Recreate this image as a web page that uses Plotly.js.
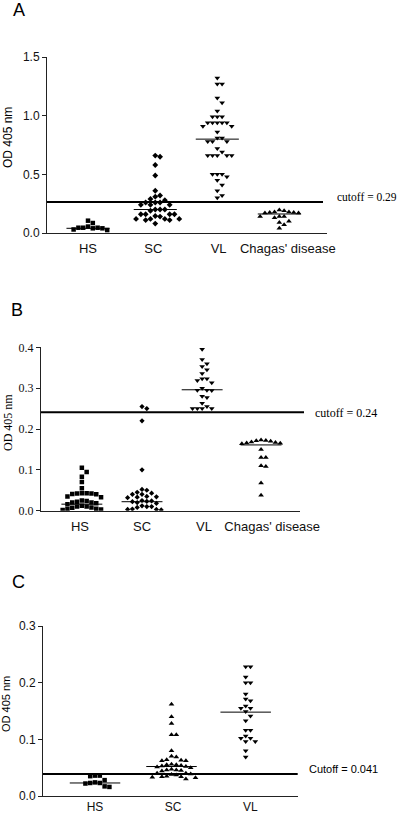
<!DOCTYPE html>
<html>
<head>
<meta charset="utf-8">
<script src="https://cdn.plot.ly/plotly-3.0.1.min.js"></script>
<style>html,body{margin:0;padding:0;background:#fff;}#chart{width:400px;height:814px;}</style>
</head>
<body>
<div id="chart"></div>
<script>
// ---------- DATA ----------
const categoriesAB = ["HS", "SC", "VL", "Chagas' disease"];
const categoriesC = ["HS", "SC", "VL"];

// Panel A
const hsA = [0.105, 0.085, 0.055, 0.045, 0.045, 0.045, 0.04, 0.04, 0.03, 0.025];
const scA = [0.66, 0.65, 0.58, 0.49, 0.36, 0.32, 0.31, 0.29, 0.28, 0.26, 0.26, 0.26, 0.24, 0.24, 0.24, 0.20, 0.20, 0.20, 0.19, 0.16, 0.16, 0.16, 0.16, 0.145, 0.14, 0.12, 0.12, 0.12, 0.12, 0.11, 0.11, 0.08];
const vlA = [1.32, 1.27, 1.27, 1.15, 1.11, 1.04, 0.99, 0.99, 0.99, 0.94, 0.94, 0.94, 0.94, 0.94, 0.91, 0.91, 0.86, 0.81, 0.81, 0.78, 0.78, 0.78, 0.72, 0.69, 0.66, 0.66, 0.66, 0.66, 0.66, 0.50, 0.50, 0.50, 0.48, 0.45, 0.41, 0.36, 0.32, 0.30];
const chA = [0.195, 0.19, 0.18, 0.18, 0.175, 0.175, 0.17, 0.17, 0.14, 0.14, 0.14, 0.13, 0.10, 0.09, 0.07, 0.04];
const medianA = [0.04, 0.20, 0.80, 0.162];

// Panel B
const hsB = [0.105, 0.095, 0.083, 0.07, 0.055, 0.043, 0.043, 0.042, 0.042, 0.041, 0.04, 0.035, 0.033, 0.025, 0.024, 0.022, 0.02, 0.02, 0.018, 0.016, 0.012, 0.01, 0.01, 0.008, 0.007, 0.005, 0.004, 0.003, 0.002];
const scB = [0.255, 0.25, 0.22, 0.10, 0.052, 0.05, 0.045, 0.043, 0.04, 0.04, 0.035, 0.034, 0.033, 0.032, 0.025, 0.024, 0.023, 0.022, 0.02, 0.018, 0.012, 0.01, 0.01, 0.008, 0.004, 0.003, 0.003, 0.002];
const vlB = [0.395, 0.37, 0.36, 0.353, 0.345, 0.336, 0.323, 0.323, 0.319, 0.313, 0.30, 0.295, 0.295, 0.294, 0.28, 0.277, 0.263, 0.255, 0.25, 0.25, 0.25, 0.25];
const chB = [0.173, 0.172, 0.171, 0.17, 0.168, 0.167, 0.166, 0.165, 0.164, 0.15, 0.13, 0.13, 0.11, 0.108, 0.068, 0.038];
const medianB = [0.016, 0.022, 0.296, 0.161];

// Panel C
const hsC = [0.036, 0.036, 0.035, 0.028, 0.024, 0.023, 0.023, 0.022, 0.017, 0.016];
const scC = [0.162, 0.14, 0.128, 0.108, 0.108, 0.08, 0.07, 0.069, 0.064, 0.063, 0.062, 0.062, 0.056, 0.055, 0.055, 0.054, 0.053, 0.052, 0.051, 0.05, 0.047, 0.046, 0.046, 0.045, 0.044, 0.04, 0.04, 0.039, 0.038, 0.037, 0.035, 0.034, 0.034, 0.033, 0.032, 0.03];
const vlC = [0.228, 0.228, 0.21, 0.2, 0.2, 0.18, 0.171, 0.168, 0.159, 0.155, 0.155, 0.149, 0.141, 0.133, 0.116, 0.116, 0.106, 0.102, 0.102, 0.096, 0.096, 0.08, 0.069];
const medianC = [0.023, 0.052, 0.148];

// Cutoff lines (as drawn) and their labels
const cutoffLine = [0.265, 0.241, 0.039];
const cutoffText = ["cutoff = 0.29", "cutoff = 0.24", "Cutoff = 0.041"];
const panelLetters = ["A", "B", "C"];
const yTitle = "OD 405 nm";

// ---------- LAYOUT CONSTANTS ----------
const W = 400, H = 814;
const SANS = "Liberation Sans, Arial, sans-serif";
const SERIF = "Liberation Serif, Times New Roman, serif";

// pixel boxes of the three plot areas: [left, right, top, bottom]
const boxes = [[47, 327, 57, 233], [41, 300, 347.3, 510.7], [43, 297.7, 626, 796]];
const xRanges = [[0.372, 4.66], [0.371, 4.548], [0.32, 3.65]];
const yRanges = [[0, 1.5], [0, 0.4], [0, 0.3]];
const yDticks = [0.5, 0.1, 0.1];

const panels = [
  {groups: [hsA, scA, vlA, chA], meds: medianA, cats: categoriesAB,
   pos: [1, 2.03, 2.98, 3.93], tickPos: [1, 2, 3, 4.06],
   symbols: ["square", "diamond", "triangle-down", "triangle-up"], sizes: [4.5, 4.5, 5, 5],
   tickFont: SANS, xlabSize: 13, xlabShift: 3},
  {groups: [hsB, scB, vlB, chB], meds: medianB, cats: categoriesAB,
   pos: [1.03, 2, 2.97, 3.92], tickPos: [1, 2, 3, 4.1],
   symbols: ["square", "diamond", "triangle-down", "triangle-up"], sizes: [4.5, 4, 5, 5],
   tickFont: SERIF, xlabSize: 13, xlabShift: 4},
  {groups: [hsC, scC, vlC], meds: medianC, cats: categoriesC,
   pos: [1, 2, 2.97], tickPos: [1, 2.02, 3.03],
   symbols: ["square", "triangle-up", "triangle-down"], sizes: [4.5, 5, 5],
   tickFont: SANS, xlabSize: 12, xlabShift: 0}
];

// simple greedy beeswarm in pixel space
function swarm(vals, center, pxX, pxY, d) {
  const placed = [];
  const out = new Array(vals.length);
  const order = vals.map((v, i) => i).sort((a, b) => vals[b] - vals[a]);
  for (const i of order) {
    const yp = vals[i] * pxY;
    let xp = 0;
    for (let s = 0; s < 60; s++) {
      const k = Math.ceil(s / 2);
      const cand = s === 0 ? 0 : (s % 2 === 1 ? k * d : -k * d);
      const ok = placed.every(p => Math.abs(p.x - cand) >= d * 0.98 || Math.abs(p.y - yp) >= d * 0.98);
      if (ok) { xp = cand; break; }
    }
    placed.push({x: xp, y: yp});
    out[i] = center + xp / pxX;
  }
  return out;
}

const traces = [];
const shapes = [];
const annotations = [];
const layout = {
  width: W, height: H, autosize: false,
  margin: {l: 0, r: 0, t: 0, b: 0, pad: 0},
  paper_bgcolor: "#fff", plot_bgcolor: "rgba(0,0,0,0)",
  showlegend: false
};

panels.forEach((p, pi) => {
  const [l, r, t, b] = boxes[pi];
  const sfx = pi === 0 ? "" : String(pi + 1);
  const xa = "x" + sfx, ya = "y" + sfx;
  const pxX = (r - l) / (xRanges[pi][1] - xRanges[pi][0]);
  const pxY = (b - t) / (yRanges[pi][1] - yRanges[pi][0]);

  layout["xaxis" + sfx] = {
    domain: [l / W, r / W], range: xRanges[pi], anchor: ya,
    showline: true, linecolor: "#222", linewidth: 1, mirror: false,
    showgrid: false, zeroline: false, ticks: "",
    tickmode: "array", tickvals: p.tickPos, ticktext: p.cats,
    ticklabelstandoff: p.xlabShift,
    tickfont: {family: SANS, size: p.xlabSize, color: "#111"}, fixedrange: true
  };
  layout["yaxis" + sfx] = {
    domain: [1 - b / H, 1 - t / H], range: yRanges[pi], anchor: xa,
    showline: true, linecolor: "#222", linewidth: 1,
    showgrid: false, zeroline: false, ticks: "outside", ticklen: 4, tickwidth: 1, tickcolor: "#222",
    dtick: yDticks[pi], tick0: 0, tickformat: ".1f",
    tickfont: {family: p.tickFont, size: 12, color: "#111"}, fixedrange: true
  };

  p.groups.forEach((vals, gi) => {
    const xs = swarm(vals, p.pos[gi], pxX, pxY, 4.8);
    traces.push({
      type: "scatter", mode: "markers", x: xs, y: vals, xaxis: xa, yaxis: ya,
      marker: {symbol: p.symbols[gi], size: p.sizes[gi], color: "#000", line: {width: 0}},
      hoverinfo: "y", name: p.cats[gi]
    });
    // median line
    const half = 0.33;
    shapes.push({type: "line", xref: xa, yref: ya, x0: p.pos[gi] - half, x1: p.pos[gi] + half,
      y0: p.meds[gi], y1: p.meds[gi], line: {color: "#000", width: 1}});
  });

  // cutoff line
  const cutEnd = [323, 304, 297.7][pi];
  shapes.push({type: "line", xref: "paper", yref: ya, x0: l / W, x1: cutEnd / W,
    y0: cutoffLine[pi], y1: cutoffLine[pi], line: {color: "#000", width: 2}});

  // cutoff label
  const labPos = [[335, 197, 11.5], [313, 412.7, 12], [306.7, 769.3, 11]][pi];
  annotations.push({xref: "paper", yref: "paper", x: labPos[0] / W, y: 1 - labPos[1] / H,
    xanchor: "left", yanchor: "middle", showarrow: false, text: cutoffText[pi],
    font: {family: pi === 2 ? SANS : SERIF, size: labPos[2], color: "#000"}});

  // y-axis title
  const ttl = [[8, 138, SANS, 12], [8, 423, SERIF, 12], [6, 704, SANS, 11]][pi];
  annotations.push({xref: "paper", yref: "paper", x: ttl[0] / W, y: 1 - ttl[1] / H,
    xanchor: "center", yanchor: "middle", showarrow: false, textangle: -90, text: yTitle,
    font: {family: ttl[2], size: ttl[3], color: "#000"}});

  // panel letter
  const let_ = [[19, 10], [17, 310], [18, 582]][pi];
  annotations.push({xref: "paper", yref: "paper", x: let_[0] / W, y: 1 - let_[1] / H,
    xanchor: "center", yanchor: "middle", showarrow: false, text: panelLetters[pi],
    font: {family: SANS, size: 18, color: "#000"}});
});

layout.shapes = shapes;
layout.annotations = annotations;

Plotly.newPlot("chart", traces, layout, {staticPlot: true, displayModeBar: false});
</script>
</body>
</html>
